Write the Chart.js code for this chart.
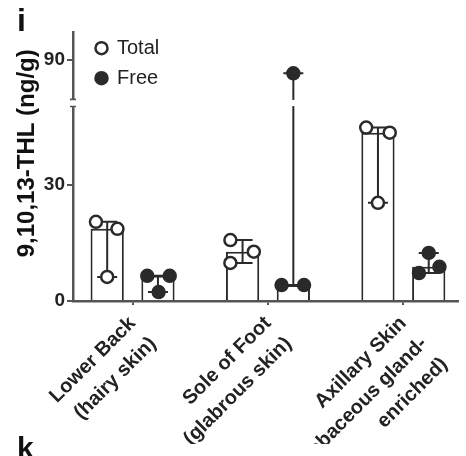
<!DOCTYPE html>
<html>
<head>
<meta charset="utf-8">
<script src="https://cdn.jsdelivr.net/npm/chart.js@4/dist/chart.umd.min.js"></script>
<style>
  html, body { margin: 0; padding: 0; background: #ffffff; }
  #wrap { width: 466px; height: 456px; }
</style>
</head>
<body>
<div id="wrap"><canvas id="c" width="466" height="456"></canvas></div>
<script>
// ---------------- DATA ----------------
const CATEGORIES = ['Lower Back (hairy skin)', 'Sole of Foot (glabrous skin)', 'Axillary Skin (sebaceous gland-enriched)'];
const CATEGORY_LINES = [
  ['Lower Back', '(hairy skin)'],
  ['Sole of Foot', '(glabrous skin)'],
  ['Axillary Skin', '(sebaceous gland-', 'enriched)']
];
const SERIES = ['Total', 'Free'];
// replicate values (ng/g) per category
const TOTAL_VALUES = [[20.4, 18.6, 6.2], [15.7, 12.7, 9.8], [44.7, 43.4, 25.3]];
const FREE_VALUES  = [[6.5, 6.5, 2.3], [4.1, 4.1, 86.6], [7.2, 8.8, 12.4]];
const Y_TICK_VALUES = [0, 30, 90];
const Y_TITLE = '9,10,13-THL (ng/g)';
const PANEL_LABEL = 'i';
const NEXT_PANEL_LABEL = 'k';
// broken y axis: lower segment 0..50, upper segment 80..97
const BREAK_LOWER_MAX = 50;
const BREAK_UPPER_MIN = 80;
const Y_TOP = 97.2;

// ---------------- LAYOUT / STYLE ----------------
const FONT = "'Liberation Sans', Arial, Helvetica, sans-serif";
const INK = '#2a2a2a';
const AXIS = '#555555';
const BREAK_GAP = 2.1;          // visual gap between the two axis segments (axis units)
const X_MIN = -0.44, X_MAX = 2.40;
const CAT_PCT = 0.75, BAR_PCT = 0.655;
const BAR_SHIFT = CAT_PCT / 4;  // centre offset of each bar within its group (x units)
const CAP = 10;                 // half width of range caps (px)
// horizontal spread of the replicate dots (x units), same order as the values
const JITTER_TOTAL = [[-0.083, 0.076, 0], [-0.09, 0.083, -0.09], [-0.087, 0.087, 0]];
const JITTER_FREE  = [[-0.079, 0.087, 0.005], [-0.087, 0.079, 0], [-0.072, 0.079, 0]];

function toAxis(v) {
  return v <= BREAK_LOWER_MAX ? v : v - BREAK_UPPER_MIN + BREAK_LOWER_MAX + BREAK_GAP;
}
function fromAxis(t) {
  return t <= BREAK_LOWER_MAX ? t : t + BREAK_UPPER_MIN - BREAK_LOWER_MAX - BREAK_GAP;
}
function median(a) {
  const s = [...a].sort((p, q) => p - q);
  const m = Math.floor(s.length / 2);
  return s.length % 2 ? s[m] : (s[m - 1] + s[m]) / 2;
}

function barDataset(name, vals) {
  return {
    type: 'bar',
    label: name + ' median',
    data: vals.map((r, i) => ({ x: i, y: toAxis(median(r)) })),
    backgroundColor: '#ffffff',
    borderColor: INK,
    borderWidth: 2,
    categoryPercentage: CAT_PCT,
    barPercentage: BAR_PCT,
    order: 2
  };
}
function dotDataset(name, vals, jitter, side, fill) {
  const pts = [];
  vals.forEach((r, i) => r.forEach((v, k) => pts.push({ x: i + side * BAR_SHIFT + jitter[i][k], y: toAxis(v) })));
  return {
    type: 'scatter',
    label: name,
    data: pts,
    backgroundColor: fill,
    borderColor: INK,
    borderWidth: 2.5,
    pointRadius: 6,
    pointStyle: 'circle',
    showLine: false,
    order: 1
  };
}

const datasets = [
  barDataset('Total', TOTAL_VALUES),
  barDataset('Free', FREE_VALUES),
  dotDataset('Total', TOTAL_VALUES, JITTER_TOTAL, -1, '#ffffff'),
  dotDataset('Free', FREE_VALUES, JITTER_FREE, 1, INK)
];

// range bars (min..max) drawn after the bars but below the dots
let rangesDrawn = false;
const rangePlugin = {
  id: 'rangeBars',
  beforeDatasetsDraw() { rangesDrawn = false; },
  beforeDatasetDraw(chart, args) {
    if (rangesDrawn || chart.data.datasets[args.index].type !== 'scatter') return;
    rangesDrawn = true;
    const { ctx } = chart;
    const y = chart.scales.y;
    ctx.save();
    ctx.strokeStyle = INK;
    ctx.lineWidth = 2;
    [[0, TOTAL_VALUES], [1, FREE_VALUES]].forEach(([di, vals]) => {
      const meta = chart.getDatasetMeta(di);
      vals.forEach((r, i) => {
        const cx = meta.data[i].x;
        const yLo = y.getPixelForValue(toAxis(Math.min(...r)));
        const yHi = y.getPixelForValue(toAxis(Math.max(...r)));
        ctx.beginPath();
        ctx.moveTo(cx, yLo); ctx.lineTo(cx, yHi);
        ctx.moveTo(cx - CAP, yLo); ctx.lineTo(cx + CAP, yLo);
        ctx.moveTo(cx - CAP, yHi); ctx.lineTo(cx + CAP, yHi);
        ctx.stroke();
      });
    });
    ctx.restore();
  },
  afterDatasetsDraw(chart) {
    // axis break: white band + small marks at the segment ends
    const { ctx, chartArea } = chart;
    const y = chart.scales.y;
    const yTop = y.getPixelForValue(toAxis(BREAK_UPPER_MIN));
    const yBot = y.getPixelForValue(toAxis(BREAK_LOWER_MAX));
    ctx.save();
    ctx.fillStyle = '#ffffff';
    ctx.fillRect(chartArea.left - 4, yTop + 1, chartArea.right - chartArea.left + 4, yBot - yTop - 2);
    ctx.strokeStyle = AXIS;
    ctx.lineWidth = 1.6;
    ctx.beginPath();
    ctx.moveTo(chartArea.left - 3, yTop + 0.5); ctx.lineTo(chartArea.left + 3, yTop + 0.5);
    ctx.moveTo(chartArea.left - 3, yBot - 0.5); ctx.lineTo(chartArea.left + 3, yBot - 0.5);
    ctx.stroke();
    ctx.restore();
  },
  afterLayout(chart) {
    const lg = chart.legend;
    if (!lg) return;
    const w = lg.right - lg.left, h = lg.bottom - lg.top;
    lg.left = chart.chartArea.left + 13;
    lg.top = chart.chartArea.top - 4;
    lg.right = lg.left + w;
    lg.bottom = lg.top + h;
  }
};

new Chart(document.getElementById('c'), {
  type: 'bar',
  data: { datasets },
  plugins: [rangePlugin],
  options: {
    responsive: false,
    animation: false,
    devicePixelRatio: 1,
    layout: { padding: { left: 17, right: 0, top: 0, bottom: 0 } },
    plugins: {
      title: {
        display: true, text: PANEL_LABEL, align: 'start', color: '#111',
        font: { family: FONT, size: 32, weight: 'bold', lineHeight: 0.6 },
        padding: { top: 13, bottom: 0 }
      },
      subtitle: {
        display: true, text: NEXT_PANEL_LABEL, position: 'bottom', align: 'start', color: '#111',
        font: { family: FONT, size: 30, weight: 'bold', lineHeight: 0.4 },
        padding: { top: 0, bottom: 0 }
      },
      legend: {
        position: 'chartArea', align: 'start',
        labels: {
          filter: item => SERIES.includes(item.text),
          usePointStyle: true, pointStyle: 'circle',
          boxWidth: 11, boxHeight: 8.5, padding: 10,
          color: '#222', font: { family: FONT, size: 20 }
        }
      },
      tooltip: { enabled: false }
    },
    scales: {
      x: {
        type: 'linear', min: X_MIN, max: X_MAX, bounds: 'data', offset: false,
        afterBuildTicks: s => { s.ticks = CATEGORIES.map((_, i) => ({ value: i })); },
        afterFit: s => { s.height = 143; s.paddingLeft = 0; s.paddingRight = 0; },
        ticks: {
          callback: (v, i) => CATEGORY_LINES[i],
          autoSkip: false, minRotation: 45, maxRotation: 45, padding: 5,
          color: '#222', font: { family: FONT, size: 20, weight: 'bold', lineHeight: 1.45 }
        },
        grid: { offset: false, drawOnChartArea: false, drawTicks: true, tickLength: 4, color: AXIS, lineWidth: 2 },
        border: { display: true, color: AXIS, width: 2.5 }
      },
      y: {
        type: 'linear', min: 0, max: toAxis(Y_TOP), bounds: 'data',
        afterBuildTicks: s => { s.ticks = Y_TICK_VALUES.map(v => ({ value: toAxis(v) })); },
        afterFit: s => { s.width = 56; },
        ticks: {
          callback: v => String(Math.round(fromAxis(v))),
          padding: 2, color: '#222', font: { family: FONT, size: 19, weight: 'bold' }
        },
        grid: { drawOnChartArea: false, drawTicks: true, tickLength: 6, color: AXIS, lineWidth: 2 },
        border: { display: true, color: AXIS, width: 2.5 },
        title: {
          display: true, text: '    ' + Y_TITLE, color: '#111',
          font: { family: FONT, size: 24, weight: 'bold', lineHeight: 0.9 },
          padding: { top: 0, bottom: 0 }
        }
      }
    }
  }
});
</script>
</body>
</html>
